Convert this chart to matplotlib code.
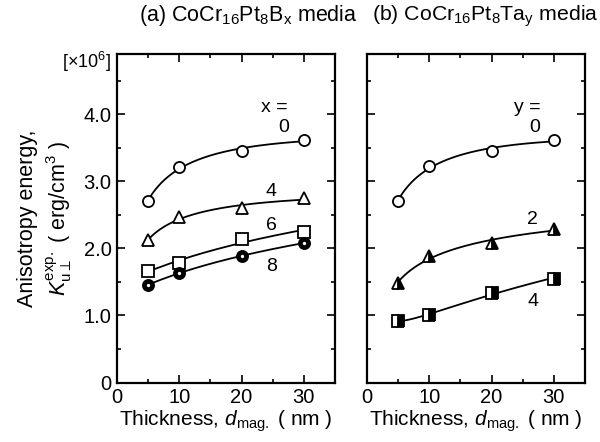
import numpy as np
import matplotlib
matplotlib.use("Agg")
import matplotlib.pyplot as plt
from matplotlib.ticker import MultipleLocator, FuncFormatter

plt.rcParams['font.family'] = ['Liberation Sans', 'DejaVu Sans']
plt.rcParams['mathtext.fontset'] = 'custom'
plt.rcParams['mathtext.rm'] = 'Liberation Sans'
plt.rcParams['mathtext.it'] = 'Liberation Sans:italic'

thickness = [5, 10, 20, 30]

# (a) CoCr16Pt8Bx
b_labels = ["0", "4", "6", "8"]
b_x0 = [2.71, 3.22, 3.45, 3.62]
b_x4 = [2.12, 2.47, 2.60, 2.75]
b_x6 = [1.67, 1.78, 2.14, 2.25]
b_x8 = [1.46, 1.63, 1.89, 2.08]

# (b) CoCr16Pt8Tay
t_labels = ["0", "2", "4"]
t_y0 = [2.71, 3.23, 3.45, 3.62]
t_y2 = [1.49, 1.88, 2.08, 2.29]
t_y4 = [0.92, 1.00, 1.34, 1.55]


def smooth_fit(x, y, xs):
    # least-squares quadratic in ln(thickness): a smooth guide line through the points
    c = np.polyfit(np.log(x), y, 2)
    return np.polyval(c, np.log(xs))


fig = plt.figure(figsize=(6.0, 4.42), dpi=100)
W, H = 600, 442
ax_a = fig.add_axes([117 / W, (H - 382.5) / H, 218 / W, 328.5 / H])
ax_b = fig.add_axes([367 / W, (H - 382.5) / H, 218 / W, 328.5 / H])

xs = np.linspace(5, 30, 200)
ms = 8


def draw(ax, ys, style):
    ax.plot(xs, smooth_fit(thickness, ys, xs), color='black', lw=1.3, zorder=2)
    ax.plot(thickness, ys, linestyle='none', zorder=3, **style)


open_c = dict(marker='o', ms=ms, mfc='white', mec='black', mew=1.3)
open_t = dict(marker='^', ms=ms + 1, mfc='white', mec='black', mew=1.3)
open_s = dict(marker='s', ms=ms, mfc='white', mec='black', mew=1.3)
bold_c = dict(marker='o', ms=ms, mfc='black', mec='black', mew=1.3)
half_t = dict(marker='^', ms=ms + 1, mfc='black', mfcalt='white', fillstyle='right', mec='black', mew=1.3)
half_s = dict(marker='s', ms=ms, mfc='black', mfcalt='white', fillstyle='right', mec='black', mew=1.3)

draw(ax_a, b_x0, open_c)
draw(ax_a, b_x4, open_t)
draw(ax_a, b_x6, open_s)
draw(ax_a, b_x8, bold_c)
ax_a.plot(thickness, b_x8, linestyle='none', marker='o', ms=2.4, mfc='white', mec='none', zorder=4)

draw(ax_b, t_y0, open_c)
draw(ax_b, t_y2, half_t)
draw(ax_b, t_y4, half_s)

fs = 14
ax_a.text(25.2, 4.1, "x =", fontsize=fs, ha='center', va='center')
ax_a.text(26.8, 3.8, b_labels[0], fontsize=fs, ha='center', va='center')
ax_a.text(24.8, 2.85, b_labels[1], fontsize=fs, ha='center', va='center')
ax_a.text(24.8, 2.34, b_labels[2], fontsize=fs, ha='center', va='center')
ax_a.text(24.8, 1.73, b_labels[3], fontsize=fs, ha='center', va='center')

ax_b.text(25.8, 4.1, "y =", fontsize=fs, ha='center', va='center')
ax_b.text(27.0, 3.8, t_labels[0], fontsize=fs, ha='center', va='center')
ax_b.text(26.6, 2.43, t_labels[1], fontsize=fs, ha='center', va='center')
ax_b.text(26.6, 1.21, t_labels[2], fontsize=fs, ha='center', va='center')

for ax in (ax_a, ax_b):
    ax.set_xlim(0, 35)
    ax.set_ylim(0, 4.9)
    ax.xaxis.set_major_locator(MultipleLocator(10))
    ax.xaxis.set_minor_locator(MultipleLocator(5))
    ax.yaxis.set_major_locator(MultipleLocator(1))
    ax.yaxis.set_minor_locator(MultipleLocator(0.5))
    ax.tick_params(which='both', direction='in', top=True, right=True, width=1.2,
                   labelsize=14.5, pad=4)
    ax.tick_params(which='major', length=6)
    ax.tick_params(which='minor', length=3)
    for s in ax.spines.values():
        s.set_linewidth(1.6)
    ax.set_xlabel(r"Thickness, $d_{\mathrm{mag.}}$ ( nm )", fontsize=15, labelpad=1)

ax_a.yaxis.set_major_formatter(FuncFormatter(lambda v, p: "0" if v == 0 else f"{v:.1f}"))
ax_b.tick_params(labelleft=False)

ax_a.set_ylabel("Anisotropy energy,\n" + r"$K_{\mathrm{u}\perp}^{\mathrm{exp.}}$ ( erg/cm$^3$ )",
                fontsize=15.5, labelpad=7, linespacing=1.3)
fig.text(86 / W, 1 - 62 / H, r"[$\times$10$^6$]", fontsize=13, ha='center', va='center')

fig.text(248 / W, 1 - 16 / H, r"(a) CoCr$_{16}$Pt$_8$B$_\mathrm{x}$ media", fontsize=15.5, ha='center', va='center')
fig.text(372 / W, 1 - 16 / H, r"(b) CoCr$_{16}$Pt$_8$Ta$_\mathrm{y}$ media", fontsize=15.3, ha='left', va='center')

fig.savefig("out.png", dpi=100)
